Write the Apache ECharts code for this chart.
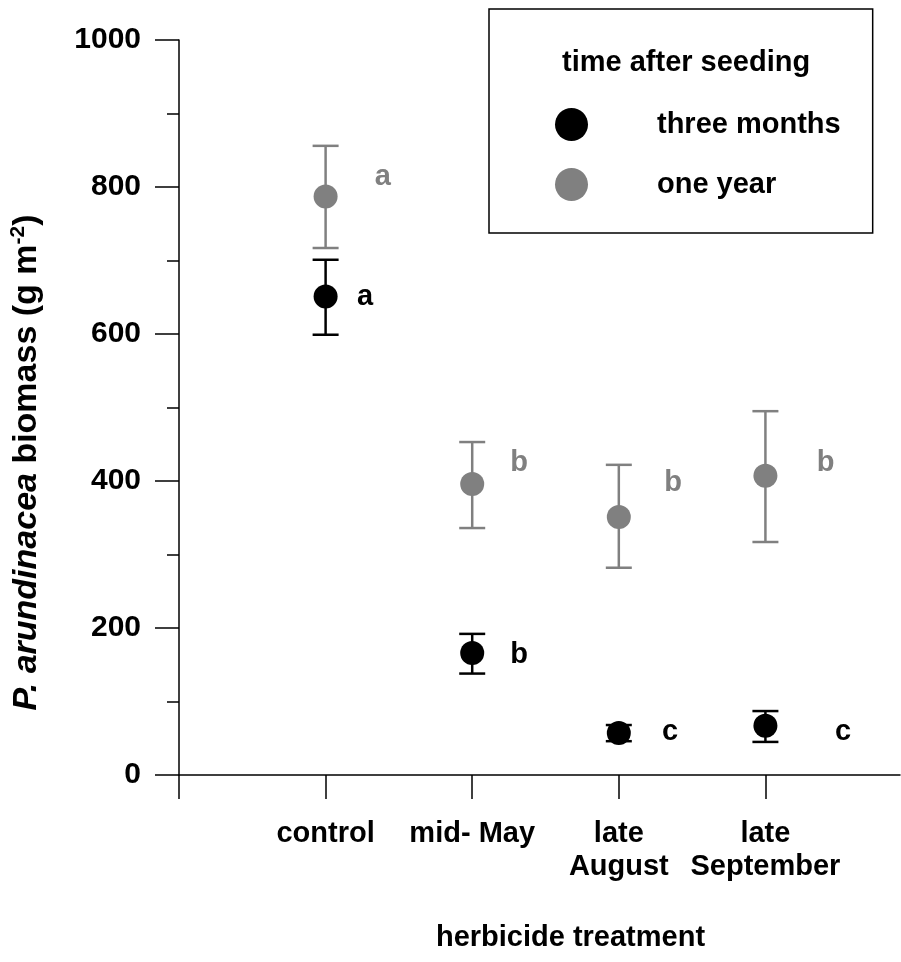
<!DOCTYPE html>
<html>
<head>
<meta charset="utf-8">
<script src="https://cdn.jsdelivr.net/npm/echarts@6/dist/echarts.min.js"></script>
<style>html,body{margin:0;padding:0;background:#fff;}#c{width:901px;height:962px;}</style>
</head>
<body>
<div id="c"></div>
<script>
// ---- data ----
const categories = ['control', 'mid- May', 'late\nAugust', 'late\nSeptember'];
const categoryPos = [1, 2, 3, 4];
const threeMonthsMean = [651, 166, 57, 67];
const threeMonthsLow  = [599, 138, 46, 45];
const threeMonthsHigh = [701, 192, 68, 87];
const oneYearMean = [787, 396, 351, 407];
const oneYearLow  = [717, 336, 282, 317];
const oneYearHigh = [856, 453, 422, 495];
// significance letters
const threeMonthsLetters = ['a', 'b', 'c', 'c'];
const threeMonthsLetterX = [1.27, 2.32, 3.35, 4.53];
const threeMonthsLetterY = [650, 163, 59, 59];
const oneYearLetters = ['a', 'b', 'b', 'b'];
const oneYearLetterX = [1.39, 2.32, 3.37, 4.41];
const oneYearLetterY = [814, 424, 397, 424];
const yTicks = [0, 200, 400, 600, 800, 1000];

const FONT = '"Liberation Sans", Arial, sans-serif';
const BLACK = '#000000';
const GREY = '#808080';

const chart = echarts.init(document.getElementById('c'), null, {renderer: 'canvas'});

function errBars(color) {
  return function (params, api) {
    const x = api.value(0);
    const lo = api.coord([x, api.value(1)]);
    const hi = api.coord([x, api.value(2)]);
    const w = 13;
    const st = {stroke: color, lineWidth: 2.5};
    return {
      type: 'group',
      children: [
        {type: 'line', shape: {x1: lo[0], y1: lo[1], x2: hi[0], y2: hi[1]}, style: st},
        {type: 'line', shape: {x1: lo[0] - w, y1: lo[1], x2: lo[0] + w, y2: lo[1]}, style: st},
        {type: 'line', shape: {x1: hi[0] - w, y1: hi[1], x2: hi[0] + w, y2: hi[1]}, style: st}
      ]
    };
  };
}
function letterItem(color) {
  return function (params, api) {
    const p = api.coord([api.value(0), api.value(1)]);
    return {
      type: 'text',
      x: p[0], y: p[1],
      style: {
        text: api.value(2),
        fill: color,
        font: 'bold 29px ' + FONT,
        textAlign: 'center',
        textVerticalAlign: 'middle'
      }
    };
  };
}

const xMax = 4.918;

chart.setOption({
  animation: false,
  backgroundColor: '#fff',
  textStyle: {fontFamily: FONT},
  grid: {left: 177, right: 1, top: 40, bottom: 187, containLabel: false},
  title: {
    text: 'time after seeding',
    left: 557, top: 43,
    textStyle: {fontFamily: FONT, fontSize: 29, fontWeight: 'bold', color: '#000'}
  },
  legend: {
    data: ['three months', 'one year'],
    orient: 'vertical',
    left: 489, top: 9,
    padding: [99, 32, 32, 66],
    itemWidth: 33, itemHeight: 33, itemGap: 27,
    icon: 'circle',
    selectedMode: false,
    borderColor: '#000', borderWidth: 1.5,
    textStyle: {fontFamily: FONT, fontSize: 29, fontWeight: 'bold', color: '#000', padding: [0, 0, 0, 64]}
  },
  xAxis: {
    type: 'value',
    min: 0, max: xMax,
    interval: 1,
    name: 'herbicide treatment',
    nameLocation: 'middle',
    nameGap: 148,
    nameTextStyle: {fontFamily: FONT, fontSize: 29, fontWeight: 'bold', color: '#000', padding: [0, 0, 0, 62]},
    axisLine: {show: true, lineStyle: {color: '#000', width: 1.5}},
    axisTick: {show: true, inside: false, length: 24, lineStyle: {color: '#000', width: 1.5}, customValues: [0, 1, 2, 3, 4]},
    axisLabel: {
      show: true, margin: 42,
      customValues: categoryPos,
      fontFamily: FONT, fontSize: 29, fontWeight: 'bold', color: '#000', lineHeight: 33,
      formatter: function (v) { const i = categoryPos.indexOf(Math.round(v)); return i >= 0 ? categories[i] : ''; }
    },
    splitLine: {show: false}
  },
  yAxis: {
    type: 'value',
    min: 0, max: 1000, interval: 200,
    name: '{i|P. arundinacea}{b| biomass (g m}{s|-2}{b|)}',
    nameLocation: 'middle',
    nameRotate: 90,
    nameGap: 134,
    nameTextStyle: {
      padding: [0, 110, 0, 0],
      rich: {
        i: {fontFamily: FONT, fontSize: 34, fontWeight: 'bold', fontStyle: 'italic', color: '#000'},
        b: {fontFamily: FONT, fontSize: 34, fontWeight: 'bold', color: '#000'},
        s: {fontFamily: FONT, fontSize: 21, fontWeight: 'bold', color: '#000', padding: [0, 0, 16, 0]}
      }
    },
    axisLine: {show: true, lineStyle: {color: '#000', width: 1.5}},
    axisTick: {show: true, inside: false, length: 24, lineStyle: {color: '#000', width: 1.5}},
    minorTick: {show: true, splitNumber: 2, length: 12, lineStyle: {color: '#000', width: 1.5}},
    axisLabel: {
      margin: 38, fontFamily: FONT, fontSize: 30, fontWeight: 'bold', color: '#000',
      customValues: yTicks,
      formatter: function (v) { return String(v); }
    },
    splitLine: {show: false}
  },
  series: [
    {
      name: 'one year err', type: 'custom', z: 2,
      renderItem: errBars(GREY),
      data: categoryPos.map((x, i) => [x, oneYearLow[i], oneYearHigh[i]])
    },
    {
      name: 'three months err', type: 'custom', z: 2,
      renderItem: errBars(BLACK),
      data: categoryPos.map((x, i) => [x, threeMonthsLow[i], threeMonthsHigh[i]])
    },
    {
      name: 'one year', type: 'scatter', z: 3,
      symbol: 'circle', symbolSize: 24,
      itemStyle: {color: GREY, opacity: 1},
      data: categoryPos.map((x, i) => [x, oneYearMean[i]])
    },
    {
      name: 'three months', type: 'scatter', z: 3,
      symbol: 'circle', symbolSize: 24,
      itemStyle: {color: BLACK, opacity: 1},
      data: categoryPos.map((x, i) => [x, threeMonthsMean[i]])
    },
    {
      name: 'one year letters', type: 'custom', z: 4,
      renderItem: letterItem(GREY),
      data: oneYearLetters.map((t, i) => [oneYearLetterX[i], oneYearLetterY[i], t])
    },
    {
      name: 'three months letters', type: 'custom', z: 4,
      renderItem: letterItem(BLACK),
      data: threeMonthsLetters.map((t, i) => [threeMonthsLetterX[i], threeMonthsLetterY[i], t])
    }
  ]
});
</script>
</body>
</html>
